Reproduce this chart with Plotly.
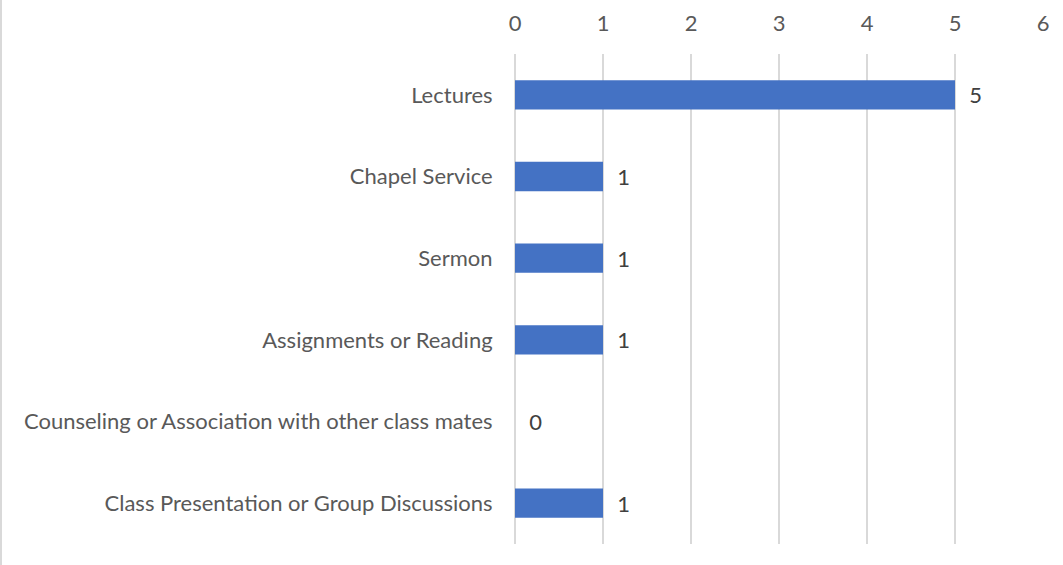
import plotly.graph_objects as go

categories = [
    "Lectures",
    "Chapel Service",
    "Sermon",
    "Assignments or Reading",
    "Counseling or Association with other class mates",
    "Class Presentation or Group Discussions",
]
values = [5, 1, 1, 1, 0, 1]
x_ticks = [0, 1, 2, 3, 4, 5, 6]

W, H = 1063, 565
L, R, T, B = 515, 20, 54, 21
FONT = "Lato"
FS = 22

fig = go.Figure(
    go.Bar(
        y=categories,
        x=values,
        orientation="h",
        marker=dict(color="#4472C4", line=dict(width=0)),
        text=[f"  {v}" for v in values],
        textposition="outside",
        textfont=dict(family=FONT, size=FS, color="#404040"),
        cliponaxis=False,
        width=0.36,
    )
)

fig.update_layout(
    width=W,
    height=H,
    margin=dict(l=L, r=R, t=T, b=B),
    paper_bgcolor="white",
    plot_bgcolor="white",
    showlegend=False,
    font=dict(family=FONT, size=FS, color="#595959"),
    xaxis=dict(
        side="top",
        range=[0, 6],
        tickvals=x_ticks,
        ticktext=[str(t) for t in x_ticks],
        showgrid=True,
        gridcolor="#D9D9D9",
        gridwidth=1.5,
        zeroline=True,
        zerolinecolor="#D9D9D9",
        zerolinewidth=1.5,
        showline=False,
        automargin=False,
        ticks="outside",
        ticklen=13,
        tickcolor="rgba(0,0,0,0)",
        tickfont=dict(family=FONT, size=FS, color="#595959"),
    ),
    yaxis=dict(
        autorange="reversed",
        showgrid=False,
        zeroline=False,
        showline=False,
        automargin=False,
        ticks="outside",
        ticklen=17,
        tickcolor="rgba(0,0,0,0)",
        tickfont=dict(family=FONT, size=FS, color="#595959"),
    ),
    shapes=[
        dict(
            type="line",
            xref="paper",
            yref="paper",
            x0=-(L - 1) / (W - L - R),
            x1=-(L - 1) / (W - L - R),
            y0=-B / (H - T - B),
            y1=1 + T / (H - T - B),
            line=dict(color="#D9D9D9", width=2),
        )
    ],
)

fig.write_html(
    "out.html",
    config={"displayModeBar": False},
    post_script="document.body.style.margin='0';document.body.style.padding='0';",
)
